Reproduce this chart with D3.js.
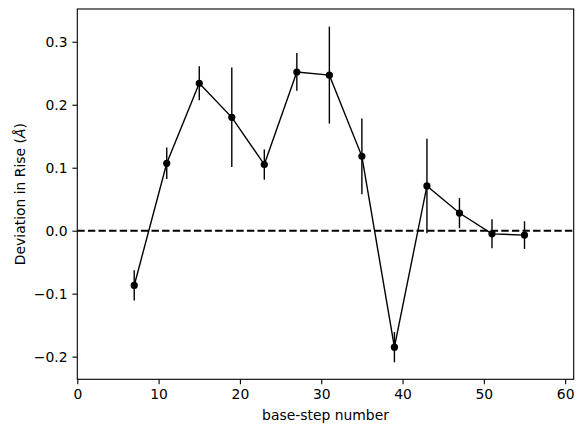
<!DOCTYPE html>
<html><head><meta charset="utf-8">
<script src="https://cdn.jsdelivr.net/npm/d3@7"></script>
<style>body{margin:0;background:#fff}text{font-family:"DejaVu Sans",sans-serif}</style>
</head><body><svg id="c" width="583" height="432"></svg>
<script>
const steps = [7, 11, 15, 19, 23, 27, 31, 35, 39, 43, 47, 51, 55];
const rise = [-0.087, 0.107, 0.234, 0.180, 0.105, 0.252, 0.247, 0.118, -0.185, 0.071, 0.028, -0.005, -0.007];
const errs = [0.024, 0.025, 0.027, 0.079, 0.024, 0.030, 0.077, 0.060, 0.024, 0.075, 0.024, 0.023, 0.022];
const xTicks = [0, 10, 20, 30, 40, 50, 60];
const yTicks = [-0.2, -0.1, 0.0, 0.1, 0.2, 0.3];

const svg = d3.select("#c");
const L = 77.3, R = 573.7, T = 9, B = 379.3;
const x = d3.scale = d3.scaleLinear().domain([0, 61.05]).range([L, R]);
const y = d3.scaleLinear().domain([-0.236, 0.352]).range([B, T]);

// zero line
svg.append("line").attr("x1", L).attr("x2", R).attr("y1", y(0)).attr("y2", y(0))
  .attr("stroke", "#000").attr("stroke-width", 2).attr("stroke-dasharray", "7.4,3.2");

// error bars
svg.append("g").selectAll("line").data(steps).join("line")
  .attr("x1", d => x(d)).attr("x2", d => x(d))
  .attr("y1", (d, i) => y(rise[i] - errs[i])).attr("y2", (d, i) => y(rise[i] + errs[i]))
  .attr("stroke", "#000").attr("stroke-width", 1.4);

// line
svg.append("path").datum(steps.map((d, i) => [d, rise[i]]))
  .attr("d", d3.line().x(d => x(d[0])).y(d => y(d[1])))
  .attr("fill", "none").attr("stroke", "#000").attr("stroke-width", 1.4);

svg.append("g").selectAll("circle").data(steps).join("circle")
  .attr("cx", d => x(d)).attr("cy", (d, i) => y(rise[i])).attr("r", 3.6).attr("fill", "#000");

// axes
const xa = svg.append("g").attr("transform", `translate(0,${B})`)
  .call(d3.axisBottom(x).tickValues(xTicks).tickSize(4.9).tickPadding(4.9).tickFormat(d3.format("d")));
const ya = svg.append("g").attr("transform", `translate(${L},0)`)
  .call(d3.axisLeft(y).tickValues(yTicks).tickSize(4.9).tickPadding(4.9)
    .tickFormat(d => d3.format(".1f")(d).replace("-", "\u2212")));
[xa, ya].forEach(a => {
  a.select(".domain").remove();
  a.selectAll("line").attr("stroke", "#000").attr("stroke-width", 1.1);
  a.selectAll("text").attr("font-size", 13.9).attr("fill", "#000").style("font-family", "DejaVu Sans");
});
svg.append("rect").attr("x", L).attr("y", T).attr("width", R - L).attr("height", B - T)
  .attr("fill", "none").attr("stroke", "#000").attr("stroke-width", 1.1);

svg.append("text").attr("x", (L + R) / 2).attr("y", 420).attr("text-anchor", "middle")
  .attr("font-size", 13.9).text("base-step number");
svg.append("text").attr("transform", `translate(25,${(T + B) / 2}) rotate(-90)`)
  .attr("text-anchor", "middle").attr("font-size", 13.9)
  .html('Deviation in Rise (<tspan font-style="italic">Å</tspan>)');
</script></body></html>
